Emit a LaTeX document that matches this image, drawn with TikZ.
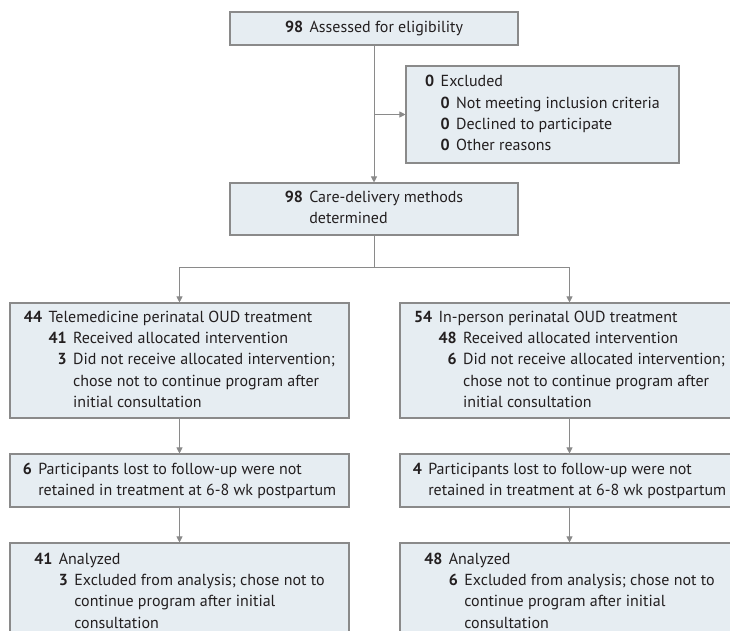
\documentclass[tikz,border=0pt]{standalone}
\usepackage{fontspec}
\setmainfont{PT Sans}
\usetikzlibrary{arrows.meta}

\definecolor{boxfill}{HTML}{E6EDF2}
\definecolor{boxline}{HTML}{8A8A8A}
\definecolor{inkgrey}{HTML}{231F20}

\tikzset{
    box/.style={shape=rectangle, draw=boxline, fill=boxfill, line width=1.1pt,
        inner sep=0pt, text=inkgrey, align=left},
    link/.style={draw=boxline, line width=0.9pt},
    arr/.style={link, -{Triangle[length=6pt, width=6pt]}},
}

\begin{document}
\begin{tikzpicture}[x=1pt, y=-1pt, font=\fontsize{16}{21.3}\selectfont]
    \clip (0, 0) rectangle (730, 630);
    \fill[white] (0, 0) rectangle (730, 630);

    \node (top) at (374, 28.5) [box, minimum width=288pt, minimum height=33pt]
        {\textbf{98}\hspace{0.4em}Assessed for eligibility};
    \node (excl) at (542.5, 114.5) [box, minimum width=273pt, minimum height=97pt]
        {\begin{tabular}{@{}r@{\hspace{0.4em}}r@{\hspace{0.4em}}l@{}}
            \textbf{0} & \multicolumn{2}{@{}l@{}}{Excluded}\\
            & \textbf{0} & Not meeting inclusion criteria\\
            & \textbf{0} & Declined to participate\\
            & \textbf{0} & Other reasons
        \end{tabular}};
    \node (care) at (374, 209) [box, minimum width=288pt, minimum height=52pt]
        {\begin{tabular}{@{}r@{\hspace{0.4em}}l@{}}
            \textbf{98} & Care-delivery methods\\
            & determined
        \end{tabular}};

    \node (tele) at (179.5, 360.5) [box, minimum width=339pt, minimum height=115pt]
        {\begin{tabular}{@{}r@{\hspace{0.4em}}r@{\hspace{0.4em}}l@{}}
            \textbf{44} & \multicolumn{2}{@{}l@{}}{Telemedicine perinatal OUD treatment}\\
            & \textbf{41} & Received allocated intervention\\
            & \textbf{3} & Did not receive allocated intervention;\\
            & & chose not to continue program after\\
            & & initial consultation
        \end{tabular}};
    \node (inper) at (569.5, 360.5) [box, minimum width=339pt, minimum height=115pt]
        {\begin{tabular}{@{}r@{\hspace{0.4em}}r@{\hspace{0.4em}}l@{}}
            \textbf{54} & \multicolumn{2}{@{}l@{}}{In-person perinatal OUD treatment}\\
            & \textbf{48} & Received allocated intervention\\
            & \textbf{6} & Did not receive allocated intervention;\\
            & & chose not to continue program after\\
            & & initial consultation
        \end{tabular}};

    \node (lostl) at (179.5, 480.5) [box, minimum width=339pt, minimum height=53pt]
        {\begin{tabular}{@{}r@{\hspace{0.4em}}l@{}}
            \textbf{6} & Participants lost to follow-up were not\\
            & retained in treatment at 6-8 wk postpartum
        \end{tabular}};
    \node (lostr) at (569.5, 480.5) [box, minimum width=339pt, minimum height=53pt]
        {\begin{tabular}{@{}r@{\hspace{0.4em}}l@{}}
            \textbf{4} & Participants lost to follow-up were not\\
            & retained in treatment at 6-8 wk postpartum
        \end{tabular}};

    \node (anal) at (179.5, 592) [box, minimum width=339pt, minimum height=98pt]
        {\begin{tabular}{@{}r@{\hspace{0.4em}}r@{\hspace{0.4em}}l@{}}
            \textbf{41} & \multicolumn{2}{@{}l@{}}{Analyzed}\\
            & \textbf{3} & Excluded from analysis; chose not to\\
            & & continue program after initial\\
            & & consultation
        \end{tabular}};
    \node (anar) at (569.5, 592) [box, minimum width=339pt, minimum height=98pt]
        {\begin{tabular}{@{}r@{\hspace{0.4em}}r@{\hspace{0.4em}}l@{}}
            \textbf{48} & \multicolumn{2}{@{}l@{}}{Analyzed}\\
            & \textbf{6} & Excluded from analysis; chose not to\\
            & & continue program after initial\\
            & & consultation
        \end{tabular}};

    % connectors
    \coordinate (side) at (374, 114.5);
    \coordinate (split) at (374, 267);
    \draw[arr] (top) -- (care);
    \draw[arr] (side) -- (excl);
    \draw[link] (care) -- (split);
    \draw[arr] (split) -| (tele);
    \draw[arr] (split) -| (inper);
    \draw[arr] (tele) -- (lostl);
    \draw[arr] (inper) -- (lostr);
    \draw[arr] (lostl) -- (anal);
    \draw[arr] (lostr) -- (anar);
\end{tikzpicture}
\end{document}
